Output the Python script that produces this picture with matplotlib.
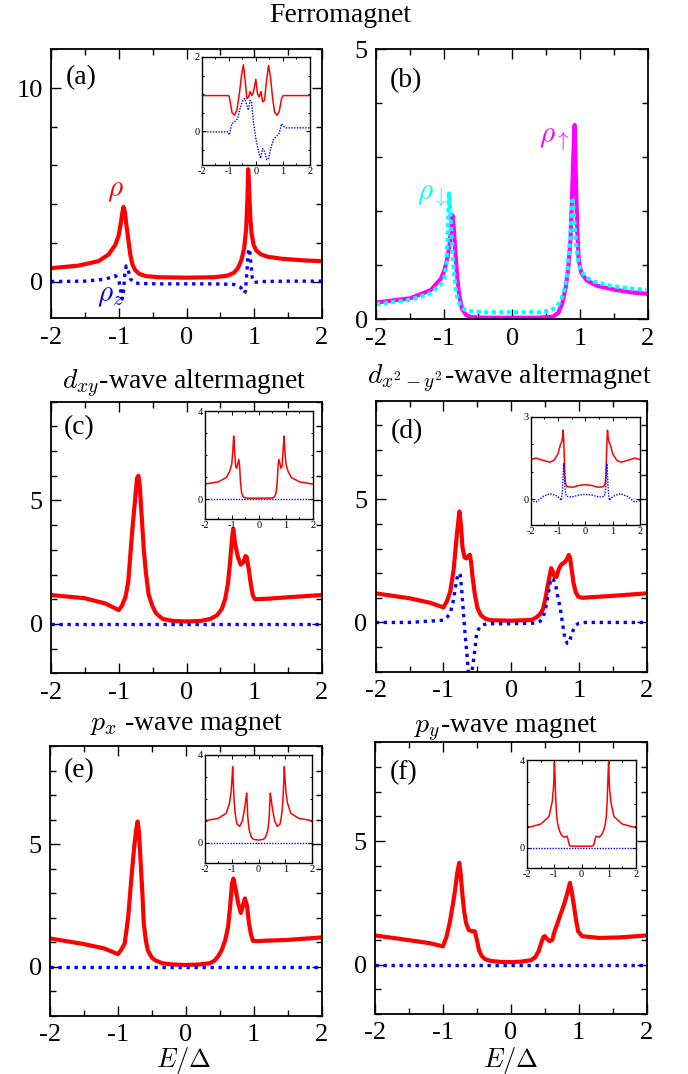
import matplotlib
matplotlib.use("Agg")
import matplotlib.pyplot as plt
from matplotlib.ticker import MultipleLocator

plt.rcParams['font.family'] = ['Liberation Serif', 'DejaVu Serif']
plt.rcParams['mathtext.fontset'] = 'cm'
plt.rcParams['axes.unicode_minus'] = False

RED = '#ff0000'
BLUE = '#0000ff'
MAGENTA = '#ff00ff'
CYAN = '#00ffff'

# ---- (a) ferromagnet: total DOS and spin-z DOS
A_RHO_X = [-2.0, -1.6, -1.3, -1.15, -1.05, -1.0, -0.97, -0.95, -0.93, -0.91, -0.89, -0.86,
           -0.83, -0.8, -0.76, -0.7, -0.6, -0.4, 0.0, 0.4, 0.6, 0.7, 0.76, 0.81, 0.85,
           0.88, 0.9, 0.91, 0.92, 0.94, 0.96, 0.99, 1.03, 1.1, 1.2, 1.4, 1.7, 2.0]
A_RHO_Y = [0.69, 0.82, 1.05, 1.4, 1.9, 2.4, 3.0, 3.5, 3.86, 3.6, 3.0, 2.2,
           1.4, 0.9, 0.6, 0.4, 0.28, 0.22, 0.2, 0.22, 0.3, 0.45, 0.7, 1.1, 1.7,
           2.7, 4.3, 5.8, 5.2, 3.4, 2.5, 1.9, 1.6, 1.4, 1.28, 1.18, 1.1, 1.05]
A_RHOZ_X = [-2.0, -1.5, -1.2, -1.05, -1.0, -0.97, -0.95, -0.93, -0.91, -0.89, -0.86,
            -0.83, -0.78, -0.7, -0.4, 0.0, 0.4, 0.7, 0.8, 0.85, 0.87, 0.89, 0.91, 0.93,
            0.95, 0.97, 1.0, 1.1, 1.5, 2.0]
A_RHOZ_Y = [0.0, 0.02, 0.12, 0.3, 0.1, -0.5, -0.9, -0.5, 0.4, 0.8, 0.6,
            0.15, -0.05, -0.1, -0.12, -0.12, -0.12, -0.15, -0.3, -0.6, -0.5, 0.4, 1.5, 1.7,
            1.0, 0.2, -0.05, 0.0, 0.02, 0.02]
AI_RHO_X = [-2.0, -1.0, -0.98, -0.88, -0.79, -0.7, -0.6, -0.53, -0.46, -0.39, -0.33,
            -0.27, -0.21, -0.15, -0.09, 0.0, 0.06, 0.12, 0.19, 0.25, 0.32, 0.4, 0.47,
            0.54, 0.62, 0.69, 0.78, 0.86, 0.95, 1.01, 2.0]
AI_RHO_Y = [0.96, 0.96, 0.92, 0.5, 0.43, 0.57, 1.06, 1.5, 1.79, 1.33, 0.88,
            0.92, 1.07, 0.96, 1.05, 1.4, 1.01, 0.92, 1.07, 0.79, 0.83, 1.4, 1.77,
            1.46, 0.88, 0.52, 0.43, 0.52, 0.88, 0.96, 0.96]
AI_RHOZ_X = [-2.0, -1.02, -0.98, -0.89, -0.79, -0.67, -0.6, -0.5, -0.41, -0.33, -0.28,
             -0.21, -0.16, -0.09, 0.0, 0.1, 0.17, 0.25, 0.32, 0.4, 0.47, 0.55, 0.64,
             0.74, 0.86, 0.95, 1.01, 1.1, 2.0]
AI_RHOZ_Y = [-0.02, -0.02, -0.1, 0.2, 0.25, 0.34, 0.57, 0.8, 0.88, 0.7, 0.57,
             0.83, 0.79, 0.25, -0.2, -0.55, -0.73, -0.47, -0.55, -0.77, -0.73, -0.47, -0.24,
             -0.15, -0.06, 0.2, 0.14, 0.09, 0.09]

# ---- (b) ferromagnet: spin-resolved DOS
B_UP_X = [-2.0, -1.5, -1.2, -1.05, -1.0, -0.95, -0.92, -0.9, -0.88, -0.86, -0.84, -0.81,
          -0.78, -0.74, -0.68, -0.6, -0.4, 0.0, 0.4, 0.6, 0.68, 0.74, 0.79, 0.83, 0.86,
          0.88, 0.9, 0.92, 0.94, 0.96, 0.98, 1.02, 1.1, 1.25, 1.5, 1.75, 2.0]
B_UP_Y = [0.31, 0.39, 0.54, 0.75, 0.9, 1.15, 1.4, 1.7, 1.93, 1.7, 1.3, 0.8,
          0.45, 0.2, 0.08, 0.04, 0.03, 0.03, 0.03, 0.05, 0.12, 0.3, 0.6, 1.0, 1.5,
          2.2, 3.0, 3.6, 2.5, 1.6, 1.1, 0.85, 0.72, 0.62, 0.55, 0.5, 0.47]
B_DN_X = [-2.0, -1.5, -1.2, -1.05, -1.0, -0.97, -0.95, -0.93, -0.91, -0.89, -0.86, -0.83,
          -0.8, -0.76, -0.7, -0.6, -0.4, 0.0, 0.4, 0.55, 0.65, 0.72, 0.77, 0.81, 0.84,
          0.87, 0.89, 0.91, 0.94, 0.97, 1.0, 1.06, 1.2, 1.45, 1.75, 2.0]
B_DN_Y = [0.28, 0.36, 0.48, 0.65, 0.75, 1.0, 1.5, 2.33, 2.0, 1.5, 0.9, 0.55,
          0.35, 0.25, 0.18, 0.15, 0.13, 0.13, 0.13, 0.16, 0.22, 0.35, 0.55, 0.85, 1.3,
          1.8, 2.2, 1.9, 1.4, 1.1, 0.95, 0.8, 0.7, 0.62, 0.57, 0.54]

# ---- (c) d_xy altermagnet
C_RHO_X = [-2.0, -1.5, -1.2, -1.0, -0.95, -0.9, -0.86, -0.8, -0.76, -0.73, -0.71, -0.69,
           -0.66, -0.63, -0.6, -0.56, -0.5, -0.45, -0.35, -0.2, 0.0, 0.2, 0.35, 0.45,
           0.52, 0.57, 0.61, 0.64, 0.67, 0.69, 0.72, 0.76, 0.8, 0.84, 0.87, 0.89, 0.92,
           0.95, 0.98, 1.01, 1.2, 1.5, 2.0]
C_RHO_Y = [1.17, 1.04, 0.83, 0.56, 0.75, 1.1, 1.7, 3.8, 5.0, 5.9, 6.0, 5.6,
           4.3, 3.0, 2.1, 1.2, 0.7, 0.43, 0.2, 0.12, 0.1, 0.12, 0.2, 0.35,
           0.6, 1.0, 1.6, 2.4, 3.4, 3.85, 3.2, 2.7, 2.4, 2.5, 2.75, 2.7, 2.2,
           1.6, 1.15, 1.0, 1.02, 1.08, 1.17]
CI_RHO_X = [-2.0, -1.5, -1.2, -1.08, -1.0, -0.96, -0.93, -0.9, -0.86, -0.82, -0.78, -0.74,
            -0.71, -0.68, -0.64, -0.58, -0.5, -0.3, 0.0, 0.3, 0.5, 0.58, 0.64, 0.68,
            0.71, 0.74, 0.78, 0.82, 0.86, 0.9, 0.93, 0.96, 1.0, 1.08, 1.2, 1.5, 2.0]
CI_RHO_Y = [0.68, 0.78, 0.98, 1.25, 1.6, 2.2, 2.86, 2.3, 1.5, 1.4, 1.6, 1.8,
            1.5, 0.8, 0.3, 0.1, 0.05, 0.04, 0.04, 0.04, 0.05, 0.1, 0.3, 0.8,
            1.5, 1.8, 1.6, 1.4, 1.5, 2.3, 2.86, 2.2, 1.6, 1.25, 0.98, 0.78, 0.68]

# ---- (d) d_{x^2-y^2} altermagnet
D_RHO_X = [-2.0, -1.5, -1.2, -1.0, -0.95, -0.9, -0.85, -0.8, -0.765, -0.74, -0.72, -0.69,
           -0.66, -0.63, -0.61, -0.59, -0.57, -0.54, -0.5, -0.45, -0.38, -0.3, 0.0, 0.3,
           0.37, 0.43, 0.47, 0.5, 0.53, 0.56, 0.59, 0.61, 0.64, 0.67, 0.7, 0.74, 0.79,
           0.82, 0.85, 0.87, 0.89, 0.92, 0.95, 0.99, 1.05, 1.5, 2.0]
D_RHO_Y = [1.18, 0.98, 0.8, 0.61, 0.85, 1.25, 2.13, 3.62, 4.5, 3.9, 3.07, 2.65,
           2.6, 2.7, 2.74, 2.4, 1.85, 1.2, 0.6, 0.3, 0.15, 0.09, 0.07, 0.1,
           0.2, 0.35, 0.55, 0.9, 1.35, 1.8, 2.2, 2.1, 1.85, 1.85, 2.15, 2.35, 2.45,
           2.55, 2.74, 2.6, 2.2, 1.6, 1.25, 1.04, 1.0, 1.08, 1.18]
D_RHOZ_X = [-2.0, -1.5, -1.0, -0.95, -0.9, -0.86, -0.83, -0.8, -0.77, -0.75, -0.73, -0.71,
            -0.69, -0.67, -0.65, -0.63, -0.61, -0.59, -0.57, -0.54, -0.51, -0.47, -0.42,
            -0.35, 0.0, 0.35, 0.43, 0.47, 0.51, 0.55, 0.58, 0.6, 0.63, 0.66, 0.69, 0.72,
            0.75, 0.78, 0.8, 0.83, 0.85, 0.88, 0.91, 0.95, 1.0, 1.1, 1.5, 2.0]
D_RHOZ_Y = [0.0, 0.0, 0.09, 0.2, 0.37, 0.8, 1.3, 1.8, 2.0, 1.9, 1.3, 0.6,
            -0.17, -0.8, -1.4, -2.1, -2.4, -2.3, -1.8, -1.2, -0.45, -0.2, -0.1,
            -0.05, -0.05, -0.03, 0.05, 0.2, 0.6, 1.2, 1.7, 1.8, 1.7, 1.45, 1.0, 0.64,
            0.1, -0.45, -0.72, -0.85, -0.85, -0.6, -0.35, -0.12, -0.03, 0.0, 0.0, 0.0]
DI_RHO_X = [-2.0, -1.8, -1.55, -1.3, -1.15, -1.0, -0.92, -0.86, -0.83, -0.81, -0.79, -0.77,
            -0.75, -0.73, -0.68, -0.6, -0.45, -0.25, 0.0, 0.25, 0.45, 0.6, 0.68, 0.73,
            0.75, 0.77, 0.79, 0.81, 0.83, 0.86, 0.92, 1.0, 1.15, 1.3, 1.55, 1.8, 2.0]
DI_RHO_Y = [1.45, 1.5, 1.42, 1.35, 1.42, 1.66, 1.97, 2.1, 2.3, 2.52, 2.1, 1.5,
            0.9, 0.6, 0.47, 0.45, 0.44, 0.5, 0.53, 0.5, 0.44, 0.45, 0.47, 0.6,
            0.9, 1.5, 2.1, 2.52, 2.3, 2.1, 1.97, 1.66, 1.42, 1.35, 1.42, 1.5, 1.45]
DI_RHOZ_X = [-2.0, -1.8, -1.55, -1.3, -1.1, -0.95, -0.88, -0.84, -0.81, -0.79, -0.77, -0.75,
             -0.72, -0.68, -0.5, -0.25, 0.0, 0.25, 0.5, 0.68, 0.72, 0.75, 0.77, 0.79,
             0.81, 0.84, 0.88, 0.95, 1.1, 1.3, 1.55, 1.8, 2.0]
DI_RHOZ_Y = [-0.05, -0.1, 0.1, 0.2, 0.15, 0.05, -0.04, 0.3, 0.9, 1.3, 0.9, 0.5,
             0.2, 0.1, 0.08, 0.15, 0.18, 0.15, 0.08, 0.1, 0.2, 0.5, 0.9, 1.3,
             0.9, 0.3, -0.04, 0.05, 0.15, 0.2, 0.1, -0.1, -0.05]

# ---- (e) p_x-wave magnet
E_RHO_X = [-2.0, -1.5, -1.2, -1.0, -0.95, -0.9, -0.85, -0.8, -0.76, -0.73, -0.71, -0.69,
           -0.67, -0.64, -0.62, -0.59, -0.56, -0.5, -0.45, -0.35, -0.2, 0.0, 0.2, 0.35,
           0.42, 0.48, 0.53, 0.58, 0.62, 0.65, 0.68, 0.7, 0.73, 0.77, 0.81, 0.84, 0.87,
           0.9, 0.93, 0.96, 0.99, 1.05, 1.2, 1.5, 2.0]
E_RHO_Y = [1.16, 0.93, 0.75, 0.52, 0.7, 0.96, 2.0, 3.67, 4.9, 5.6, 5.92, 5.5,
           4.5, 3.0, 1.77, 1.1, 0.68, 0.38, 0.27, 0.15, 0.1, 0.08, 0.1, 0.15,
           0.25, 0.45, 0.7, 1.1, 1.6, 2.4, 3.4, 3.6, 3.2, 2.6, 2.2, 2.5, 2.79,
           2.5, 1.77, 1.3, 1.06, 1.05, 1.07, 1.1, 1.2]
EI_RHO_X = [-2.0, -1.5, -1.2, -1.08, -1.02, -0.98, -0.96, -0.94, -0.91, -0.88, -0.84, -0.8,
            -0.7, -0.6, -0.54, -0.5, -0.47, -0.44, -0.42, -0.4, -0.36, -0.33, -0.26, -0.18,
            0.0, 0.18, 0.26, 0.33, 0.36, 0.4, 0.42, 0.44, 0.47, 0.5, 0.54, 0.6, 0.7,
            0.8, 0.84, 0.88, 0.91, 0.94, 0.96, 0.98, 1.02, 1.08, 1.2, 1.5, 2.0]
EI_RHO_Y = [1.0, 1.11, 1.34, 1.8, 2.3, 3.0, 3.47, 2.8, 2.0, 1.5, 1.1, 0.85,
            0.74, 1.0, 1.4, 1.7, 2.0, 2.26, 1.8, 1.2, 0.7, 0.5, 0.25, 0.15,
            0.12, 0.15, 0.25, 0.5, 0.7, 1.2, 1.8, 2.26, 2.0, 1.7, 1.4, 1.0, 0.74,
            0.85, 1.1, 1.5, 2.0, 2.8, 3.47, 3.0, 2.3, 1.8, 1.34, 1.11, 1.0]

# ---- (f) p_y-wave magnet
F_RHO_X = [-2.0, -1.5, -1.2, -1.0, -0.95, -0.9, -0.85, -0.82, -0.79, -0.76, -0.74, -0.72,
           -0.69, -0.66, -0.62, -0.57, -0.53, -0.5, -0.47, -0.43, -0.38, -0.3, -0.15, 0.0,
           0.15, 0.3, 0.36, 0.41, 0.45, 0.48, 0.5, 0.53, 0.57, 0.61, 0.65, 0.69, 0.72,
           0.75, 0.79, 0.82, 0.85, 0.87, 0.9, 0.93, 0.96, 0.99, 1.05, 1.3, 1.6, 2.0]
F_RHO_Y = [1.18, 0.99, 0.87, 0.74, 1.1, 1.69, 2.5, 3.04, 3.7, 4.12, 3.7, 3.04,
           2.2, 1.69, 1.4, 1.35, 1.35, 1.0, 0.6, 0.35, 0.22, 0.15, 0.11, 0.1,
           0.12, 0.18, 0.3, 0.55, 0.9, 1.12, 1.15, 1.05, 0.95, 1.0, 1.4, 1.69, 1.95,
           2.17, 2.5, 2.78, 3.1, 3.31, 2.9, 2.36, 1.8, 1.35, 1.15, 1.08, 1.1, 1.18]
FI_RHO_X = [-2.0, -1.5, -1.2, -1.08, -1.03, -1.0, -0.98, -0.95, -0.92, -0.88, -0.82, -0.75,
            -0.65, -0.58, -0.54, -0.5, -0.47, -0.44, -0.38, -0.2, 0.0, 0.2, 0.38, 0.44,
            0.47, 0.5, 0.54, 0.58, 0.65, 0.75, 0.82, 0.88, 0.92, 0.95, 0.98, 1.0, 1.03,
            1.08, 1.2, 1.5, 2.0]
FI_RHO_Y = [0.91, 1.08, 1.42, 2.1, 2.8, 3.9, 3.3, 2.2, 1.5, 1.1, 0.8, 0.6,
            0.48, 0.5, 0.53, 0.4, 0.2, 0.1, 0.07, 0.07, 0.07, 0.07, 0.07, 0.1,
            0.2, 0.4, 0.53, 0.5, 0.48, 0.6, 0.8, 1.1, 1.5, 2.2, 3.3, 3.9, 2.8,
            2.1, 1.42, 1.08, 0.91]

# spin-z DOS vanishes identically for (c), (e), (f)
ZERO_X = [-2.0, 2.0]
ZERO_Y = [0.0, 0.0]

W, H = 688, 1074


def box(left, top, right, bottom):
    """Pixel box -> figure fraction rect."""
    return [left / W, 1 - bottom / H, (right - left) / W, (bottom - top) / H]


def style_main(ax, ylim, major, minor):
    ax.set_xlim(-2, 2)
    ax.set_ylim(*ylim)
    ax.xaxis.set_major_locator(MultipleLocator(1))
    ax.xaxis.set_minor_locator(MultipleLocator(0.5))
    ax.yaxis.set_major_locator(MultipleLocator(major))
    ax.yaxis.set_minor_locator(MultipleLocator(minor))
    ax.tick_params(which='both', direction='in', top=True, right=True,
                   labelsize=19, pad=6, width=1.0)
    ax.tick_params(which='major', length=7)
    ax.tick_params(which='minor', length=4)
    for s in ax.spines.values():
        s.set_linewidth(1.3)


def style_inset(ax, ylim, major):
    ax.set_xlim(-2, 2)
    ax.set_ylim(*ylim)
    ax.set_facecolor('white')
    ax.xaxis.set_major_locator(MultipleLocator(1))
    ax.xaxis.set_minor_locator(MultipleLocator(0.5))
    ax.yaxis.set_major_locator(MultipleLocator(major))
    ax.yaxis.set_minor_locator(MultipleLocator(1 if major > 2 else 0.5))
    ax.tick_params(which='both', direction='in', top=True, right=True,
                   labelsize=7.5, pad=1.5, width=0.7)
    ax.tick_params(which='major', length=3)
    ax.tick_params(which='minor', length=1.6)
    for s in ax.spines.values():
        s.set_linewidth(1.0)


def main_lines(ax, x, y, xz, yz):
    ax.plot(x, y, color=RED, lw=3.0, solid_joinstyle='round')
    ax.plot(xz, yz, color=BLUE, lw=2.4, linestyle=(0, (1, 1.4)))


def inset_lines(ax, x, y, xz, yz):
    ax.plot(x, y, color=RED, lw=1.1)
    ax.plot(xz, yz, color=BLUE, lw=1.0, linestyle=(0, (1, 1)))


def panel_label(ax, text, fx, fy):
    ax.text(fx, fy, text, transform=ax.transAxes, fontsize=20,
            ha='center', va='center')


fig = plt.figure(figsize=(W / 100, H / 100), dpi=100)

# (a)
ax_a = fig.add_axes(box(51, 49.3, 322, 318.3))
main_lines(ax_a, A_RHO_X, A_RHO_Y, A_RHOZ_X, A_RHOZ_Y)
style_main(ax_a, (-1.9, 12), 10, 2)
panel_label(ax_a, '(a)', 0.11, 0.895)
ax_a.text(-1.05, 4.7, r'$\rho$', color=RED, fontsize=21, ha='center', va='center')
ax_a.text(-1.13, -0.75, r'$\rho_z$', color=BLUE, fontsize=21, ha='center', va='center')
ins_a = fig.add_axes(box(201.7, 57, 310, 165.3))
inset_lines(ins_a, AI_RHO_X, AI_RHO_Y, AI_RHOZ_X, AI_RHOZ_Y)
style_inset(ins_a, (-0.92, 2), 2)

# (b)
ax_b = fig.add_axes(box(376.3, 49.3, 648, 319.3))
ax_b.plot(B_UP_X, B_UP_Y, color=MAGENTA, lw=3.0)
ax_b.plot(B_DN_X, B_DN_Y, color=CYAN, lw=3.0, linestyle=(0, (1, 0.8)))
style_main(ax_b, (0, 5), 5, 1)
panel_label(ax_b, '(b)', 0.108, 0.883)
ax_b.text(-1.17, 2.29, r'$\rho_{\downarrow}$', color=CYAN, fontsize=21, ha='center', va='center')
ax_b.text(0.62, 3.32, r'$\rho_{\uparrow}$', color=MAGENTA, fontsize=21, ha='center', va='center')

# (c)
ax_c = fig.add_axes(box(51, 401.7, 322, 673.3))
main_lines(ax_c, C_RHO_X, C_RHO_Y, ZERO_X, ZERO_Y)
style_main(ax_c, (-2, 9), 5, 1)
panel_label(ax_c, '(c)', 0.103, 0.905)
ins_c = fig.add_axes(box(204.7, 411, 313, 519.3))
inset_lines(ins_c, CI_RHO_X, CI_RHO_Y, ZERO_X, ZERO_Y)
style_inset(ins_c, (-0.92, 4), 4)

# (d)
ax_d = fig.add_axes(box(375.7, 400.7, 646.7, 671.7))
main_lines(ax_d, D_RHO_X, D_RHO_Y, D_RHOZ_X, D_RHOZ_Y)
style_main(ax_d, (-2, 9), 5, 1)
panel_label(ax_d, '(d)', 0.117, 0.886)
ins_d = fig.add_axes(box(530.7, 417, 640, 525.3))
inset_lines(ins_d, DI_RHO_X, DI_RHO_Y, DI_RHOZ_X, DI_RHOZ_Y)
style_inset(ins_d, (-0.95, 3), 3)

# (e)
ax_e = fig.add_axes(box(50, 746, 321.7, 1016))
main_lines(ax_e, E_RHO_X, E_RHO_Y, ZERO_X, ZERO_Y)
style_main(ax_e, (-2, 9), 5, 1)
panel_label(ax_e, '(e)', 0.106, 0.908)
ins_e = fig.add_axes(box(204.7, 755, 312.3, 863.3))
inset_lines(ins_e, EI_RHO_X, EI_RHO_Y, ZERO_X, ZERO_Y)
style_inset(ins_e, (-0.94, 4), 4)

# (f)
ax_f = fig.add_axes(box(375, 742.3, 646.7, 1014))
main_lines(ax_f, F_RHO_X, F_RHO_Y, ZERO_X, ZERO_Y)
style_main(ax_f, (-2, 9), 5, 1)
panel_label(ax_f, '(f)', 0.107, 0.889)
ins_f = fig.add_axes(box(527.3, 760, 635.7, 868.3))
inset_lines(ins_f, FI_RHO_X, FI_RHO_Y, ZERO_X, ZERO_Y)
style_inset(ins_f, (-0.94, 4), 4)

# row headings and shared x label
heads = [
    (340.5, 21.7, 'Ferromagnet'),
    (184, 389, r'$d_{xy}$-wave altermagnet'),
    (509.5, 384, r'$d_{x^2-y^2}$-wave altermagnet'),
    (186, 730, r'$p_x$ -wave magnet'),
    (506.5, 733, r'$p_y$-wave magnet'),
]
for px, py, txt in heads:
    fig.text(px / W, 1 - py / H, txt, fontsize=20, ha='center', va='baseline')

for px in (184, 511):
    fig.text(px / W, 1 - 1067 / H, r'$E/\Delta$', fontsize=19, ha='center', va='baseline')

fig.savefig('out.png', dpi=100)
